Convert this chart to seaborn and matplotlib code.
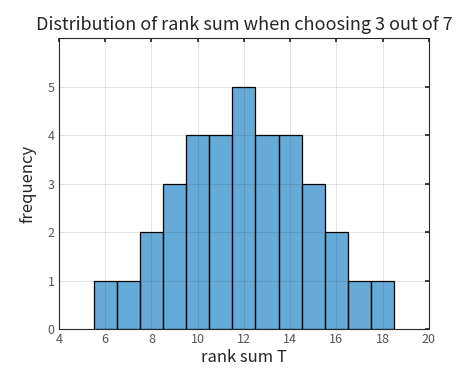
import matplotlib
matplotlib.use("Agg")
import matplotlib.pyplot as plt
import seaborn as sns

# rank sums T and their frequencies (choose 3 out of 7)
rank_sums = [6, 7, 8, 9, 10, 11, 12, 13, 14, 15, 16, 17, 18]
counts = [1, 1, 2, 3, 4, 4, 5, 4, 4, 3, 2, 1, 1]
x_ticks = [4, 6, 8, 10, 12, 14, 16, 18, 20]
y_ticks = [0, 1, 2, 3, 4, 5]

sns.set_theme(style="white")
plt.rcParams['font.family'] = ['Noto Sans CJK KR', 'DejaVu Sans']

fig = plt.figure(figsize=(4.75, 3.88), dpi=100)
ax = fig.add_axes([0.124, 0.152, 0.779, 0.750])

sns.histplot(x=rank_sums, weights=counts, discrete=True, ax=ax,
             color='#0072BD', alpha=0.6, edgecolor='black', linewidth=0.9)

ax.set_xlim(4, 20)
ax.set_ylim(0, 6)
ax.set_xticks(x_ticks)
ax.set_yticks(y_ticks)
# MATLAB-style faint grid drawn over the bars
ax.grid(True, color='#262626', linewidth=0.6, alpha=0.15)
ax.set_axisbelow(False)
ax.tick_params(direction='in', length=3, labelsize=9, colors='#262626',
               labelcolor='#555555', top=True, right=True, pad=3)
for s in ax.spines.values():
    s.set_color('#262626')
    s.set_linewidth(0.8)

ax.set_title('Distribution of rank sum when choosing 3 out of 7', fontsize=13,
             pad=6, fontweight='light')
ax.set_xlabel('rank sum T', fontsize=12, labelpad=2, fontweight='light')
ax.set_ylabel('frequency', fontsize=12, labelpad=8, fontweight='light')

fig.savefig('out.png', dpi=100)
